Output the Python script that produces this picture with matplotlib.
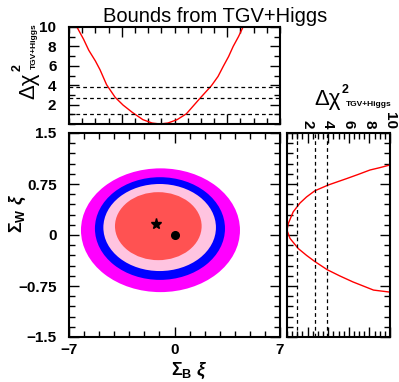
import matplotlib
matplotlib.use('Agg')
import matplotlib.pyplot as plt
from matplotlib.patches import Ellipse
from matplotlib.ticker import MultipleLocator, FixedLocator, FixedFormatter, NullFormatter

# ---------------- data ----------------
# 1D profile vs Sigma_B xi (top panel)
top_x = [-7.4, -6.9, -6.5, -6.0, -5.65, -5.15, -4.5, -3.9, -3.2, -2.4, -1.7, -1.1,
         -0.5, 0.2, 0.9, 1.9, 2.8, 3.3, 3.7, 4.1, 4.45, 4.85, 5.2]
top_y = [10.0, 8.75, 7.6, 6.5, 5.6, 4.05, 2.75, 1.95, 1.2, 0.45, 0.1, 0.0,
         0.1, 0.45, 1.05, 2.6, 3.95, 4.9, 5.95, 6.95, 8.0, 9.0, 10.0]
# 1D profile vs Sigma_W xi (right panel)
right_sw = [1.03, 0.99, 0.956, 0.89, 0.83, 0.735, 0.65, 0.56, 0.47, 0.34, 0.17, 0.07,
            -0.05, -0.2, -0.3, -0.39, -0.51, -0.6, -0.69, -0.81, -0.84]
right_chi = [10.0, 9.0, 8.06, 6.9, 5.8, 4.0, 2.7, 1.9, 1.26, 0.6, 0.13, 0.0,
             0.29, 1.1, 1.9, 2.7, 3.9, 5.1, 6.4, 8.4, 10.0]
# reference lines (Delta chi^2)
ref_levels = [1.0, 2.71, 3.84]
# 2D allowed regions (outer to inner): centre and full extents in (Sigma_B xi, Sigma_W xi)
region_names = ['99%', '95%', '90%', '68%']
region_cx = [-0.93, -0.965, -0.985, -1.075]
region_cy = [0.07, 0.095, 0.11, 0.13]
region_w = [10.55, 8.63, 7.47, 5.75]
region_h = [1.82, 1.51, 1.28, 1.00]
region_colors = ['#ff00ff', '#0000ff', '#ffc4e0', '#ff5252']
# best fit / SM points
bestfit = (-1.2, 0.16)
sm_point = (0.0, 0.0)
# tick labels
main_xticks = [-7, 0, 7]
main_xlabels = ['\u22127', '0', '7']
main_yticks = [-1.5, -0.75, 0, 0.75, 1.5]
main_ylabels = ['\u22121.5', '\u22120.75', '0', '0.75', '1.5']
chi_ticks = [2, 4, 6, 8, 10]
chi_labels = ['2', '4', '6', '8', '10']

# ---------------- style ----------------
plt.rcParams['font.family'] = ['Liberation Sans', 'DejaVu Sans']
plt.rcParams['mathtext.fontset'] = 'custom'
plt.rcParams['mathtext.rm'] = 'Liberation Sans:bold'
plt.rcParams['mathtext.bf'] = 'Liberation Sans:bold'
plt.rcParams['mathtext.it'] = 'Liberation Sans:bold:italic'

W, H = 399, 382
fig = plt.figure(figsize=(W / 100, H / 100), dpi=100)
ax_main = fig.add_axes([69 / W, 1 - 337 / H, 211 / W, 204 / H])
ax_top = fig.add_axes([69 / W, 1 - 124 / H, 211 / W, 97 / H])
ax_right = fig.add_axes([287 / W, 1 - 337 / H, 103 / W, 204 / H])

def style(ax):
    for s in ax.spines.values():
        s.set_linewidth(1.5)
    ax.tick_params(which='both', direction='in', top=True, right=True, bottom=True, left=True,
                   width=1.0, colors='black')
    ax.tick_params(which='major', length=7)
    ax.tick_params(which='minor', length=4)

# main panel
for name, cx, cy, w, h, c in zip(region_names, region_cx, region_cy, region_w, region_h, region_colors):
    ax_main.add_patch(Ellipse((cx, cy), w, h, facecolor=c, edgecolor='none', zorder=1))
ax_main.plot([bestfit[0]], [bestfit[1]], marker='*', color='black', ms=8, ls='none', zorder=3)
ax_main.plot([sm_point[0]], [sm_point[1]], marker='o', color='black', ms=5.5, ls='none', zorder=3)
ax_main.set_xlim(-7, 7)
ax_main.set_ylim(-1.5, 1.5)
style(ax_main)
ax_main.xaxis.set_major_locator(FixedLocator(main_xticks))
ax_main.xaxis.set_major_formatter(FixedFormatter(main_xlabels))
ax_main.xaxis.set_minor_locator(MultipleLocator(1))
ax_main.yaxis.set_major_locator(FixedLocator(main_yticks))
ax_main.yaxis.set_major_formatter(FixedFormatter(main_ylabels))
ax_main.yaxis.set_minor_locator(MultipleLocator(0.15))
ax_main.tick_params(axis='both', which='major', labelsize=11)
ax_main.tick_params(axis='x', pad=4)
ax_main.tick_params(axis='y', pad=9)
for lbl in ax_main.get_xticklabels() + ax_main.get_yticklabels():
    lbl.set_fontweight('bold')

# top panel
ax_top.plot(top_x, top_y, color='red', lw=1.0)
for lv in ref_levels:
    ax_top.axhline(lv, color='black', lw=0.9, ls=(0, (3, 2.5)))
ax_top.set_xlim(-8, 8)
ax_top.set_ylim(0, 10)
style(ax_top)
ax_top.xaxis.set_major_locator(FixedLocator([-4, 4]))
ax_top.xaxis.set_minor_locator(MultipleLocator(1))
ax_top.xaxis.set_major_formatter(NullFormatter())
ax_top.yaxis.set_major_locator(FixedLocator(chi_ticks))
ax_top.yaxis.set_major_formatter(FixedFormatter(chi_labels))
ax_top.yaxis.set_minor_locator(MultipleLocator(1))
ax_top.tick_params(axis='y', which='major', labelsize=11, pad=9)
for lbl in ax_top.get_yticklabels():
    lbl.set_fontweight('bold')

# right panel
ax_right.plot(right_chi, right_sw, color='red', lw=1.0)
for lv in ref_levels:
    ax_right.axvline(lv, color='black', lw=0.9, ls=(0, (3, 2.5)))
ax_right.set_xlim(0, 10)
ax_right.set_ylim(-1.5, 1.5)
style(ax_right)
ax_right.xaxis.set_major_locator(FixedLocator(chi_ticks))
ax_right.xaxis.set_major_formatter(FixedFormatter(chi_labels))
ax_right.xaxis.set_minor_locator(MultipleLocator(0.5))
ax_right.yaxis.set_major_locator(FixedLocator(main_yticks))
ax_right.yaxis.set_minor_locator(MultipleLocator(0.15))
ax_right.yaxis.set_major_formatter(NullFormatter())
ax_right.tick_params(axis='x', which='major', labeltop=True, labelbottom=False, labelsize=11,
                     labelrotation=-90, pad=3)
for lbl in ax_right.get_xticklabels():
    lbl.set_fontweight('bold')

# ---------------- texts ----------------
fig.text(215 / W, 1 - 16 / H, 'Bounds from TGV+Higgs', ha='center', va='center',
         fontsize=14.5, fontweight='normal')
# x label
fig.text(189 / W, 1 - 371 / H, r'$\Sigma_{\mathrm{B}}\ \xi$', ha='center', va='center', fontsize=13)
# main y label
fig.text(18 / W, 1 - 213 / H, r'$\Sigma_{\mathrm{W}}\ \xi$', ha='center', va='center', fontsize=13,
         rotation=90)
# top panel y label (rotated): Delta chi, superscript 2, subscript
fig.text(29 / W, 1 - 86 / H, '\u0394\u03c7', ha='center', va='center', fontsize=16, rotation=90)
fig.text(18 / W, 1 - 68 / H, '2', ha='center', va='center', fontsize=9, fontweight='bold',
         rotation=90)
fig.text(34 / W, 1 - 46 / H, 'TGV+Higgs', ha='center', va='center', fontsize=6, fontweight='bold',
         rotation=90)
# right panel x label
fig.text(328 / W, 1 - 100 / H, '\u0394\u03c7', ha='center', va='center', fontsize=16)
fig.text(345 / W, 1 - 90 / H, '2', ha='center', va='center', fontsize=9, fontweight='bold')
fig.text(369 / W, 1 - 105 / H, 'TGV+Higgs', ha='center', va='center', fontsize=6, fontweight='bold')

fig.savefig('out.png', dpi=100)
